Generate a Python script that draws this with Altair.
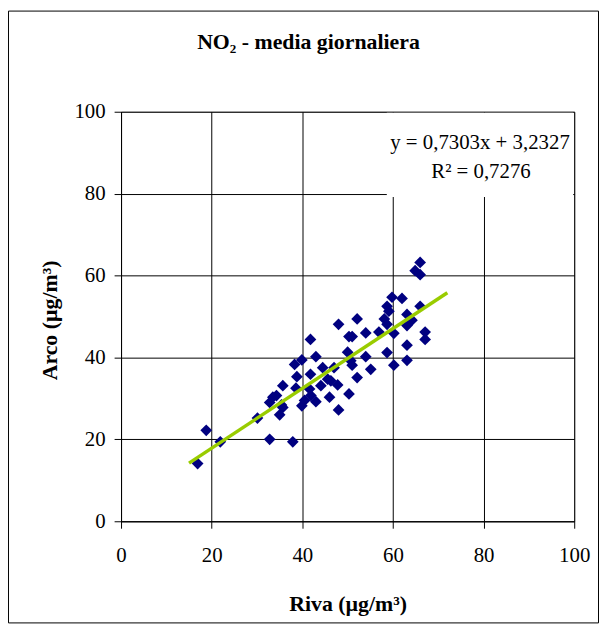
import altair as alt
import pandas as pd

# ---- data ----
riva = [16.9, 18.8, 21.9, 30.1, 32.8, 37.9,
        32.8, 33.5, 34.3, 35.4, 35.7, 35.0, 35.7, 38.6, 38.8, 38.3, 39.9, 41.8,
        41.8, 39.9, 41.9, 41.6, 43.0, 43.0, 44.1, 44.5, 45.6, 46.3, 46.0, 47.0,
        47.8, 48.0, 48.0, 50.0, 50.3, 50.3, 51.0, 50.7, 51.0, 52.1, 52.1, 54.0,
        54.0, 55.1, 56.9, 58.7, 58.7, 58.1, 59.1, 58.7, 59.8, 60.2, 60.2, 62.0,
        63.1, 63.1, 63.1, 63.1, 64.2, 66.0, 64.9, 66.0, 66.0, 67.1, 67.1, 40.5]
arco = [14.1, 22.2, 19.4, 25.2, 20.0, 19.4,
        29.0, 30.3, 30.7, 28.4, 27.8, 26.0, 33.1, 32.5, 35.3, 38.3, 39.4, 44.4,
        35.9, 28.2, 30.7, 32.3, 40.2, 29.2, 33.1, 37.5, 34.7, 34.3, 30.3, 37.5,
        33.3, 48.1, 27.2, 41.3, 45.1, 31.1, 45.1, 39.2, 38.1, 49.4, 35.1, 46.0,
        40.2, 37.1, 46.2, 52.5, 48.1, 49.4, 51.3, 41.2, 54.7, 45.9, 38.1, 54.4,
        50.5, 47.8, 43.0, 39.3, 49.1, 63.2, 61.2, 60.2, 52.5, 46.2, 44.4, 29.5]

SLOPE = 0.7303
INTERCEPT = 3.2327
trend_x = [15, 72]

title_text = ["NO₂ - media giornaliera"]
eq_text = ["y = 0,7303x + 3,2327"]
r2_text = ["R² = 0,7276"]
x_title = "Riva (µg/m³)"
y_title = "Arco (µg/m³)"
ticks = [0, 20, 40, 60, 80, 100]

pts = pd.DataFrame({"riva": riva, "arco": arco})
trend = pd.DataFrame({"riva": trend_x,
                      "arco": [SLOPE * v + INTERCEPT for v in trend_x]})

W, H = 457, 413
FONT = "Liberation Serif"

xs = alt.Scale(domain=[0, 100], nice=False)
ys = alt.Scale(domain=[0, 100], nice=False)

xaxis = alt.Axis(values=ticks, title=x_title, grid=True, gridColor="#000",
                 gridWidth=1, gridOpacity=1, domainColor="#000", tickColor="#000",
                 tickSize=7, labelFont=FONT, labelFontSize=21, labelColor="#000",
                 labelPadding=17, titleFont=FONT, titleFontSize=22,
                 titleFontWeight="bold", titleColor="#000",
                 titleBaseline="alphabetic", titleY=90, labelFlush=False)
yaxis = alt.Axis(values=ticks, title=y_title, grid=True, gridColor="#000",
                 gridWidth=1, gridOpacity=1, domainColor="#000", tickColor="#000",
                 tickSize=7, labelFont=FONT, labelFontSize=21, labelColor="#000",
                 labelPadding=9, titleFont=FONT, titleFontSize=22,
                 titleFontWeight="bold", titleColor="#000", titleAngle=270,
                 titleBaseline="alphabetic", titleX=-65, titleY=210,
                 labelFlush=False)

one = pd.DataFrame({"k": [0]})

frame = alt.Chart(one).mark_rect(filled=False, stroke="#000", strokeWidth=1).encode(
    x=alt.value(-113.5), x2=alt.value(W + 24.5),
    y=alt.value(-101.5), y2=alt.value(H + 102.5))

box = alt.Chart(one).mark_rect(fill="white", stroke=None).encode(
    x=alt.value(268), x2=alt.value(W - 1),
    y=alt.value(1), y2=alt.value(86))

scatter = alt.Chart(pts).mark_point(shape="diamond", filled=True, size=140,
                                    color="#000080", opacity=1).encode(
    x=alt.X("riva:Q", scale=xs, axis=xaxis),
    y=alt.Y("arco:Q", scale=ys, axis=yaxis))

line = alt.Chart(trend).mark_line(color="#99CC00", strokeWidth=3.5).encode(
    x=alt.X("riva:Q", scale=xs), y=alt.Y("arco:Q", scale=ys))

title = alt.Chart(pd.DataFrame({"t": title_text})).mark_text(
    font=FONT, fontSize=22, fontWeight="bold", color="#000",
    align="center", baseline="alphabetic").encode(
    text="t:N", x=alt.value(189), y=alt.value(-63))

eq = alt.Chart(pd.DataFrame({"t": eq_text})).mark_text(
    font=FONT, fontSize=21, color="#000", align="center",
    baseline="alphabetic").encode(text="t:N", x=alt.value(362), y=alt.value(38))

r2 = alt.Chart(pd.DataFrame({"t": r2_text})).mark_text(
    font=FONT, fontSize=21, color="#000", align="center",
    baseline="alphabetic").encode(text="t:N", x=alt.value(363), y=alt.value(67))

chart = alt.layer(frame, box, scatter, line, title, eq, r2).properties(
    width=W, height=H,
    autosize=alt.AutoSizeParams(type="none"),
    padding={"left": 114, "top": 102, "right": 25, "bottom": 103},
    background="white",
).configure_view(stroke="#808080", strokeWidth=1)

chart.save("out.html", embed_options={"renderer": "svg", "actions": False})
